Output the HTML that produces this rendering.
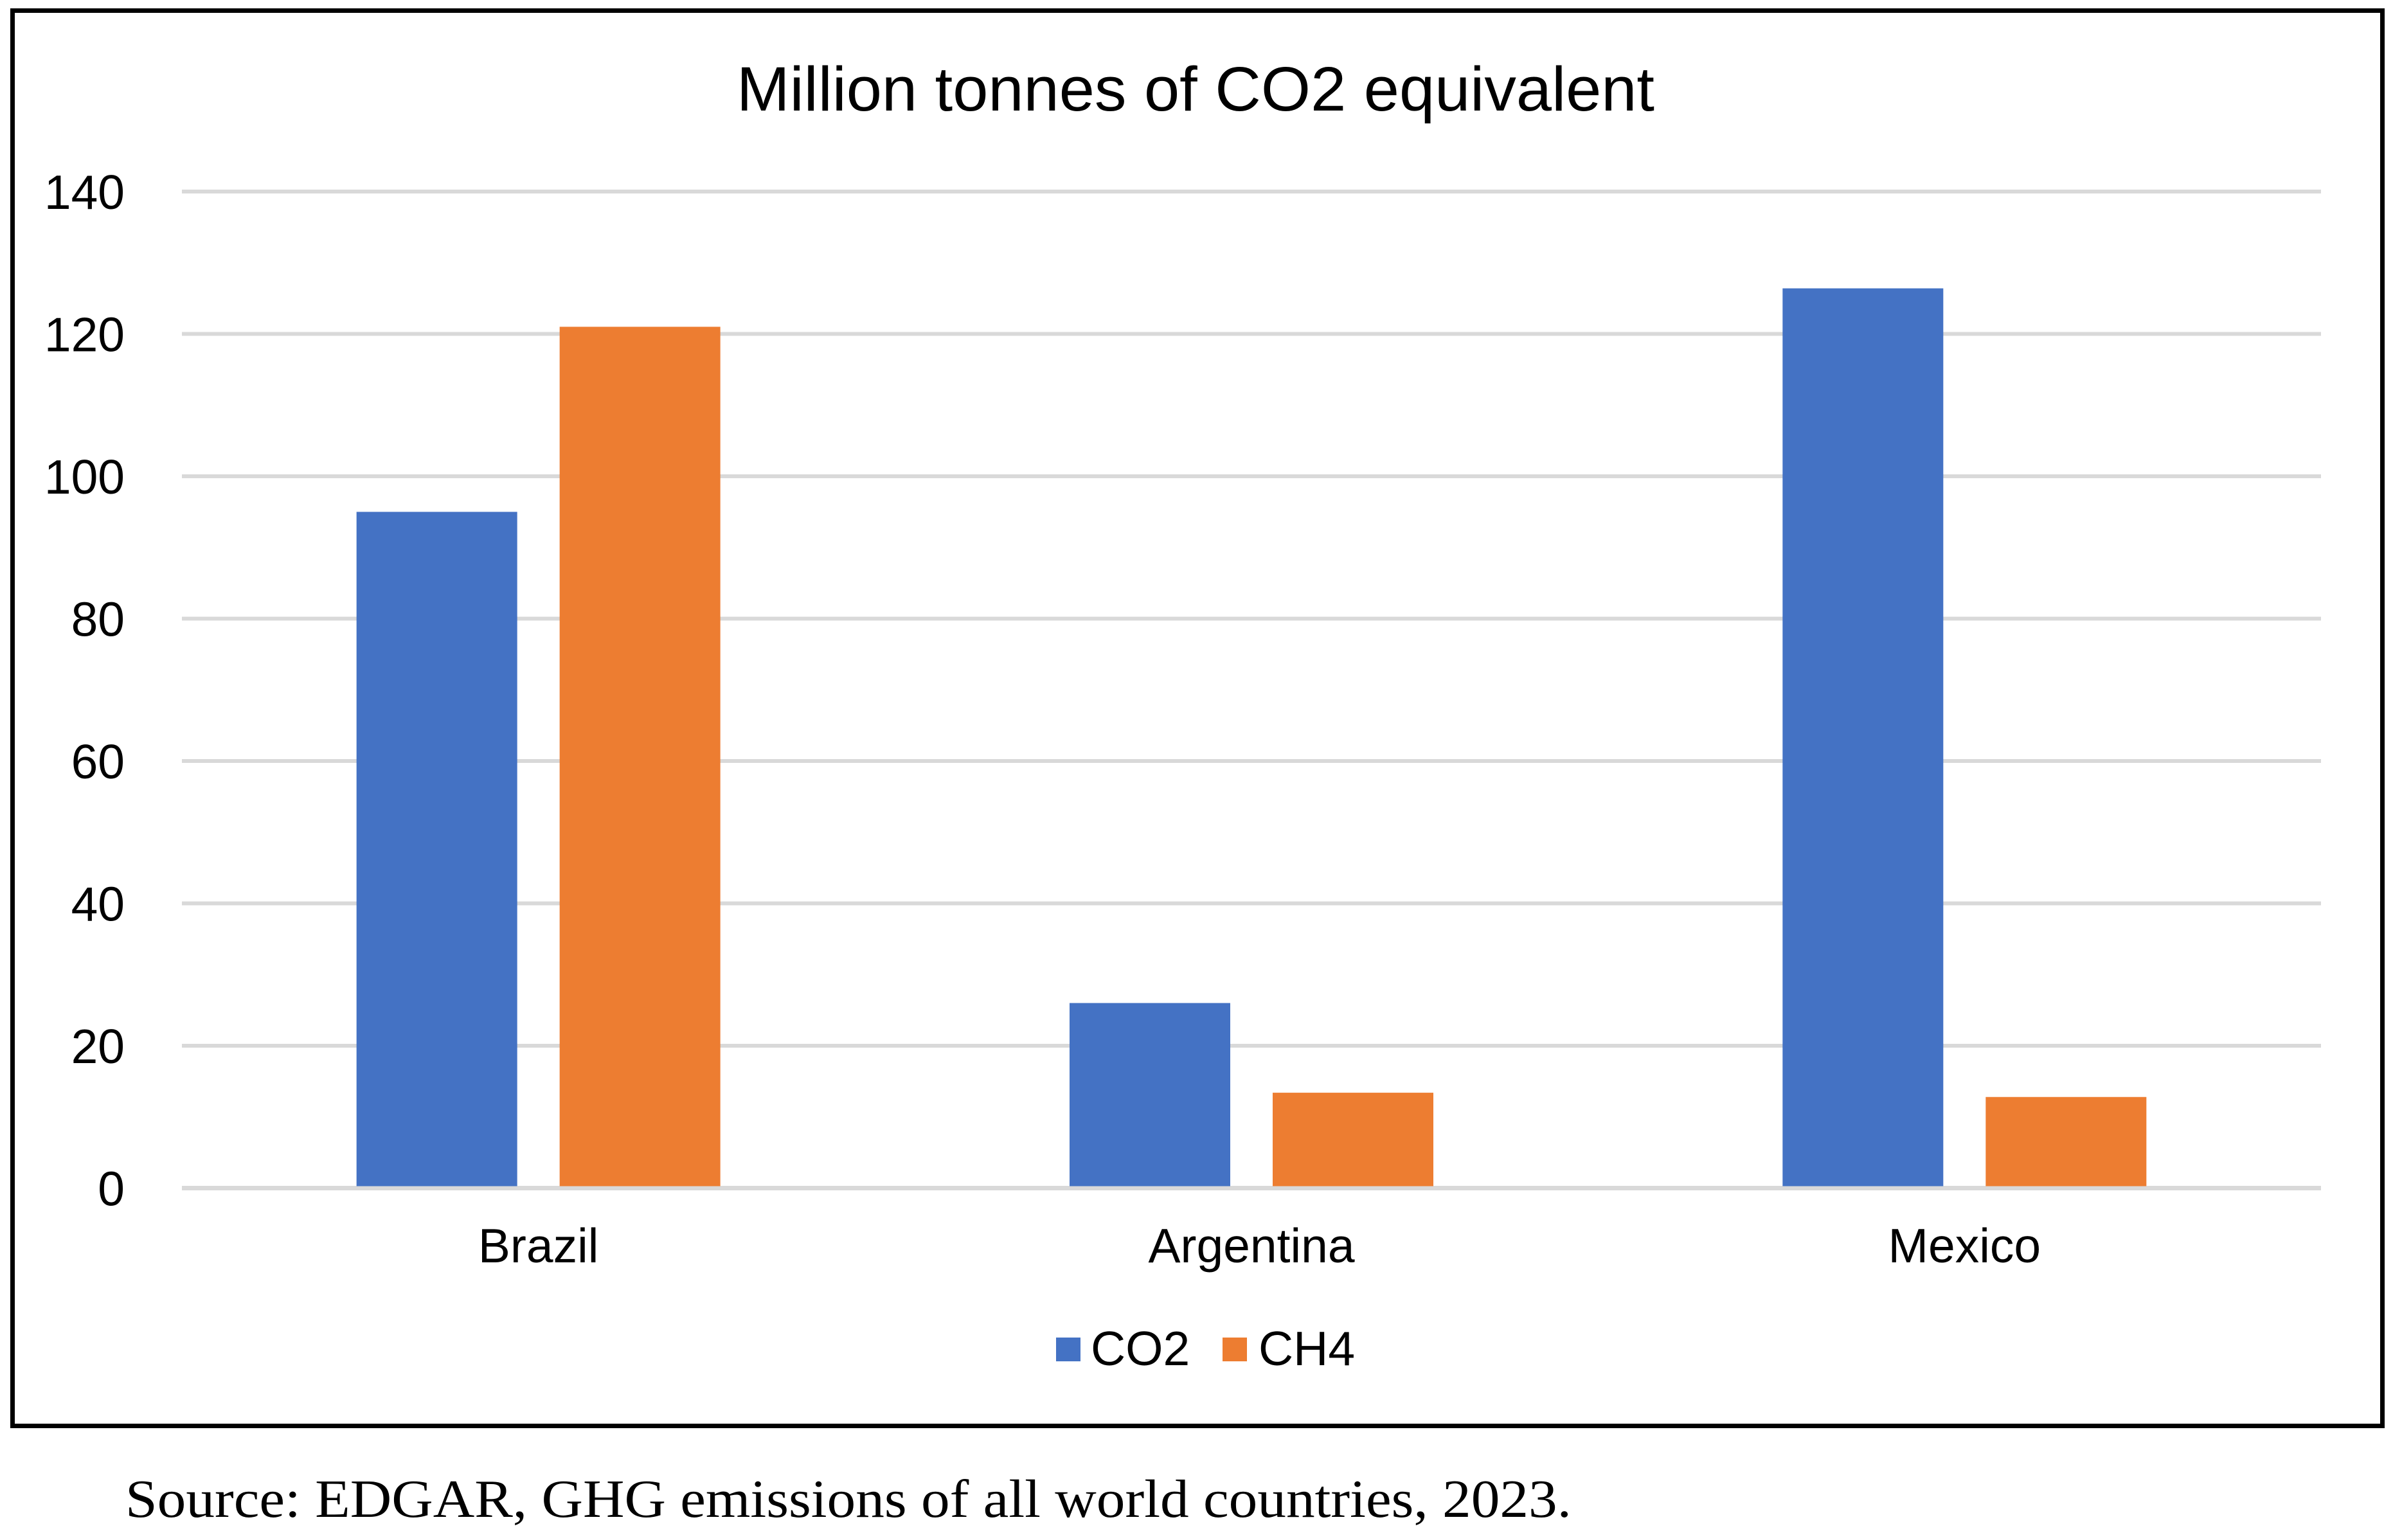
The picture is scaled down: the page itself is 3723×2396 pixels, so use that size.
<!DOCTYPE html>
<html><head><meta charset="utf-8"><style>html,body{margin:0;padding:0;background:#fff}svg{display:block}</style></head>
<body>
<svg width="3723" height="2396" viewBox="0 0 3723 2396" xmlns="http://www.w3.org/2000/svg">
<rect x="0" y="0" width="3723" height="2396" fill="#fff"/>
<rect x="19.5" y="16.5" width="3687" height="2202" fill="none" stroke="#000" stroke-width="7"/>
<text x="1860" y="172" text-anchor="middle" font-family="Liberation Sans, sans-serif" font-size="97" textLength="1428" lengthAdjust="spacingAndGlyphs">Million tonnes of CO2 equivalent</text>
<g id="grid"></g>
<g id="yticks"></g>
<g id="bars"></g>
<g id="xlabels"></g>
<g>
<rect x="1643" y="2081" width="38" height="37" fill="#4472C4"/>
<text x="1697" y="2124" font-family="Liberation Sans, sans-serif" font-size="75">CO2</text>
<rect x="1902" y="2081" width="38" height="37" fill="#ED7D31"/>
<text x="1958" y="2124" font-family="Liberation Sans, sans-serif" font-size="75">CH4</text>
</g>
<text x="195" y="2360" font-family="Liberation Serif, serif" font-size="84" textLength="2250" lengthAdjust="spacingAndGlyphs">Source: EDGAR, GHG emissions of all world countries, 2023.</text>
</svg>
<script>
const categories = ["Brazil", "Argentina", "Mexico"];
const co2Values = [95, 26, 126.4];
const ch4Values = [121, 13.4, 12.8];
const yTicks = [0, 20, 40, 60, 80, 100, 120, 140];
const seriesNames = ["CO2", "CH4"];

const NS = "http://www.w3.org/2000/svg";
const plotL = 283, plotR = 3611, y0 = 1848.5, pxPerUnit = 11.075;
const yScale = v => y0 - v * pxPerUnit;
const catW = (plotR - plotL) / categories.length;
const xCenter = i => plotL + catW * (i + 0.5);
const barW = 250, gap = 66;

const grid = document.getElementById('grid');
const yt = document.getElementById('yticks');
yTicks.forEach(t => {
  const l = document.createElementNS(NS, 'line');
  l.setAttribute('x1', plotL); l.setAttribute('x2', plotR);
  l.setAttribute('y1', yScale(t)); l.setAttribute('y2', yScale(t));
  l.setAttribute('stroke', '#d9d9d9'); l.setAttribute('stroke-width', t === 0 ? 7 : 6);
  
  
  grid.appendChild(l);
  const tx = document.createElementNS(NS, 'text');
  tx.setAttribute('x', 194); tx.setAttribute('y', yScale(t) + 27);
  tx.setAttribute('text-anchor', 'end');
  tx.setAttribute('font-family', 'Liberation Sans, sans-serif');
  tx.setAttribute('font-size', '75');
  tx.textContent = t;
  
  
  yt.appendChild(tx);
});

const bars = document.getElementById('bars');
const xl = document.getElementById('xlabels');
categories.forEach((c, i) => {
  const cx = xCenter(i);
  [[co2Values[i], '#4472C4', -1, 'co2'], [ch4Values[i], '#ED7D31', 1, 'ch4']].forEach(([v, col, side, nm]) => {
    const r = document.createElementNS(NS, 'rect');
    const x = side < 0 ? cx - gap / 2 - barW : cx + gap / 2;
    r.setAttribute('x', x); r.setAttribute('width', barW);
    r.setAttribute('y', yScale(v)); r.setAttribute('height', y0 - 3 - yScale(v));
    r.setAttribute('fill', col);
    
    
    bars.appendChild(r);
  });
  const t = document.createElementNS(NS, 'text');
  t.setAttribute('x', cx); t.setAttribute('y', 1964);
  t.setAttribute('text-anchor', 'middle');
  t.setAttribute('font-family', 'Liberation Sans, sans-serif');
  t.setAttribute('font-size', '75');
  t.textContent = c;
  
  
  xl.appendChild(t);
});
</script>
</body></html>
